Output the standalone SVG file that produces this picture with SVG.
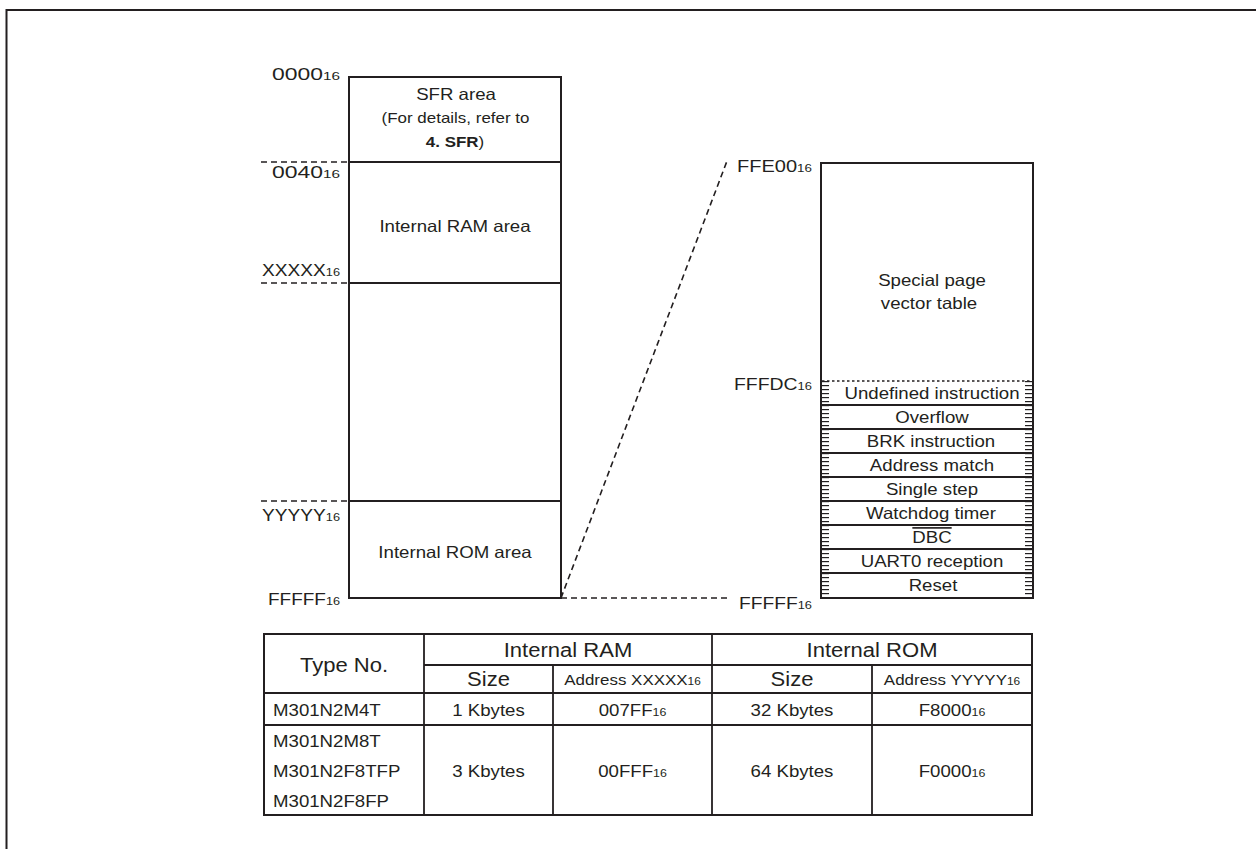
<svg xmlns="http://www.w3.org/2000/svg" width="1256" height="849" viewBox="0 0 1256 849">
<style>
text{font-family:"Liberation Sans",Arial,sans-serif;fill:#231f20}
.t{font-size:16.5px}
.c{text-anchor:middle}
.e{text-anchor:end}
.s{font-size:11px}
.h{font-size:19.5px}
.b{font-size:16.5px}
.a{font-size:15px}
.as{font-size:10.5px}
.box{fill:#fff;stroke:#231f20;stroke-width:2}
.ln{stroke:#231f20;stroke-width:1.8;fill:none}
.dash{stroke:#231f20;stroke-width:1.6;fill:none;stroke-dasharray:6 4}
.dot{stroke:#231f20;stroke-width:1.6;fill:none;stroke-dasharray:2.5 2.5}
</style>
<defs>
<pattern id="tick" patternUnits="userSpaceOnUse" x="0" y="381" width="8" height="4">
<rect x="0" y="0" width="8" height="1.2" fill="#231f20"/>
</pattern>
</defs>
<rect width="1256" height="849" fill="#fff"/>
<path d="M6.5 849V10H1256" fill="none" stroke="#231f20" stroke-width="2"/>

<g id="memory-map">
<g id="sfr-area">
<rect class="box" x="349" y="77" width="212" height="85"/>
<text class="t c" transform="translate(456 100) scale(1.13 1)">SFR area</text>
<text class="t c" transform="translate(455.5 123) scale(1.13 1)" style="font-size:15px">(For details, refer to</text>
<text class="t c" transform="translate(455 147) scale(1.13 1)" style="font-size:15px"><tspan font-weight="bold">4. SFR</tspan>)</text>
</g>
<g id="ram-area">
<rect class="box" x="349" y="162" width="212" height="121"/>
<text class="t c" transform="translate(455 232) scale(1.13 1)">Internal RAM area</text>
</g>
<g id="reserved-area">
<rect class="box" x="349" y="283" width="212" height="218"/>
</g>
<g id="rom-area">
<rect class="box" x="349" y="501" width="212" height="97"/>
<text class="t c" transform="translate(455 558) scale(1.13 1)">Internal ROM area</text>
</g>
<g id="left-labels">
<text class="t e" x="340" y="80" textLength="68" lengthAdjust="spacingAndGlyphs">0000<tspan class="s">16</tspan></text>
<text class="t e" x="340" y="178" textLength="68" lengthAdjust="spacingAndGlyphs">0040<tspan class="s">16</tspan></text>
<text class="t e" x="340" y="276" textLength="78" lengthAdjust="spacingAndGlyphs">XXXXX<tspan class="s">16</tspan></text>
<text class="t e" x="340" y="521" textLength="78" lengthAdjust="spacingAndGlyphs">YYYYY<tspan class="s">16</tspan></text>
<text class="t e" x="340" y="605" textLength="72" lengthAdjust="spacingAndGlyphs">FFFFF<tspan class="s">16</tspan></text>
</g>
</g>

<g id="vector-table">
<rect class="box" x="821" y="163" width="212" height="435"/>
<text class="t c" transform="translate(932 286) scale(1.13 1)">Special page</text>
<text class="t c" transform="translate(929 309) scale(1.13 1)">vector table</text>
<rect x="821" y="381" width="8" height="216" fill="url(#tick)"/>
<rect x="1025" y="381" width="8" height="216" fill="url(#tick)"/>
<line class="dot" x1="822" y1="381" x2="1032" y2="381"/>
<path class="ln" d="M821 405H1033M821 429H1033M821 453H1033M821 477H1033M821 501H1033M821 525H1033M821 549H1033M821 573H1033"/>
<g id="row-undefined"><text class="t c" transform="translate(932 399) scale(1.13 1)">Undefined instruction</text></g>
<g id="row-overflow"><text class="t c" transform="translate(932 423) scale(1.13 1)">Overflow</text></g>
<g id="row-brk"><text class="t c" transform="translate(931 447) scale(1.13 1)">BRK instruction</text></g>
<g id="row-address-match"><text class="t c" transform="translate(932 471) scale(1.13 1)">Address match</text></g>
<g id="row-single-step"><text class="t c" transform="translate(932 495) scale(1.13 1)">Single step</text></g>
<g id="row-watchdog"><text class="t c" transform="translate(931 519) scale(1.13 1)">Watchdog timer</text></g>
<g id="row-dbc"><text class="t c" transform="translate(932 543) scale(1.13 1)" style="text-decoration:overline">DBC</text></g>
<g id="row-uart0"><text class="t c" transform="translate(932 567) scale(1.13 1)">UART0 reception</text></g>
<g id="row-reset"><text class="t c" transform="translate(933 591) scale(1.13 1)">Reset</text></g>
<g id="right-labels">
<text class="t" x="737" y="172" textLength="75" lengthAdjust="spacingAndGlyphs">FFE00<tspan class="s">16</tspan></text>
<text class="t" x="734" y="390" textLength="78" lengthAdjust="spacingAndGlyphs">FFFDC<tspan class="s">16</tspan></text>
<text class="t" x="739" y="609" textLength="73" lengthAdjust="spacingAndGlyphs">FFFFF<tspan class="s">16</tspan></text>
</g>
</g>

<g id="connectors">
<path class="dash" d="M261 162H349M261 283H349M261 501H349"/>
<path class="dash" d="M561 598L727 161"/>
<path class="dash" d="M561 598H730"/>
</g>

<g id="type-table">
<rect x="264" y="634" width="768" height="181" fill="none" stroke="#231f20" stroke-width="2"/>
<path class="ln" d="M424 634V815M712 634V815M424 665H1032M553 665V815M872 665V815M264 693H1032M264 725H1032"/>
<text class="h c" transform="translate(344 672) scale(1.13 1)">Type No.</text>
<text class="h c" transform="translate(568 657) scale(1.13 1)">Internal RAM</text>
<text class="h c" transform="translate(872 657) scale(1.13 1)">Internal ROM</text>
<text class="h c" transform="translate(488.5 686) scale(1.13 1)">Size</text>
<text class="a c" transform="translate(632.5 685) scale(1.13 1)">Address XXXXX<tspan class="as">16</tspan></text>
<text class="h c" transform="translate(792 686) scale(1.13 1)">Size</text>
<text class="a c" transform="translate(952 685) scale(1.13 1)">Address YYYYY<tspan class="as">16</tspan></text>
<text class="b" transform="translate(273 716) scale(1.13 1)">M301N2M4T</text>
<text class="b c" transform="translate(488.5 716) scale(1.13 1)">1 Kbytes</text>
<text class="b c" transform="translate(632.5 716) scale(1.13 1)">007FF<tspan class="s">16</tspan></text>
<text class="b c" transform="translate(792 716) scale(1.13 1)">32 Kbytes</text>
<text class="b c" transform="translate(952 716) scale(1.13 1)">F8000<tspan class="s">16</tspan></text>
<text class="b" transform="translate(273 747) scale(1.13 1)">M301N2M8T</text>
<text class="b" transform="translate(273 777) scale(1.13 1)">M301N2F8TFP</text>
<text class="b" transform="translate(273 807) scale(1.13 1)">M301N2F8FP</text>
<text class="b c" transform="translate(488.5 777) scale(1.13 1)">3 Kbytes</text>
<text class="b c" transform="translate(632.5 777) scale(1.13 1)">00FFF<tspan class="s">16</tspan></text>
<text class="b c" transform="translate(792 777) scale(1.13 1)">64 Kbytes</text>
<text class="b c" transform="translate(952 777) scale(1.13 1)">F0000<tspan class="s">16</tspan></text>
</g>
</svg>
